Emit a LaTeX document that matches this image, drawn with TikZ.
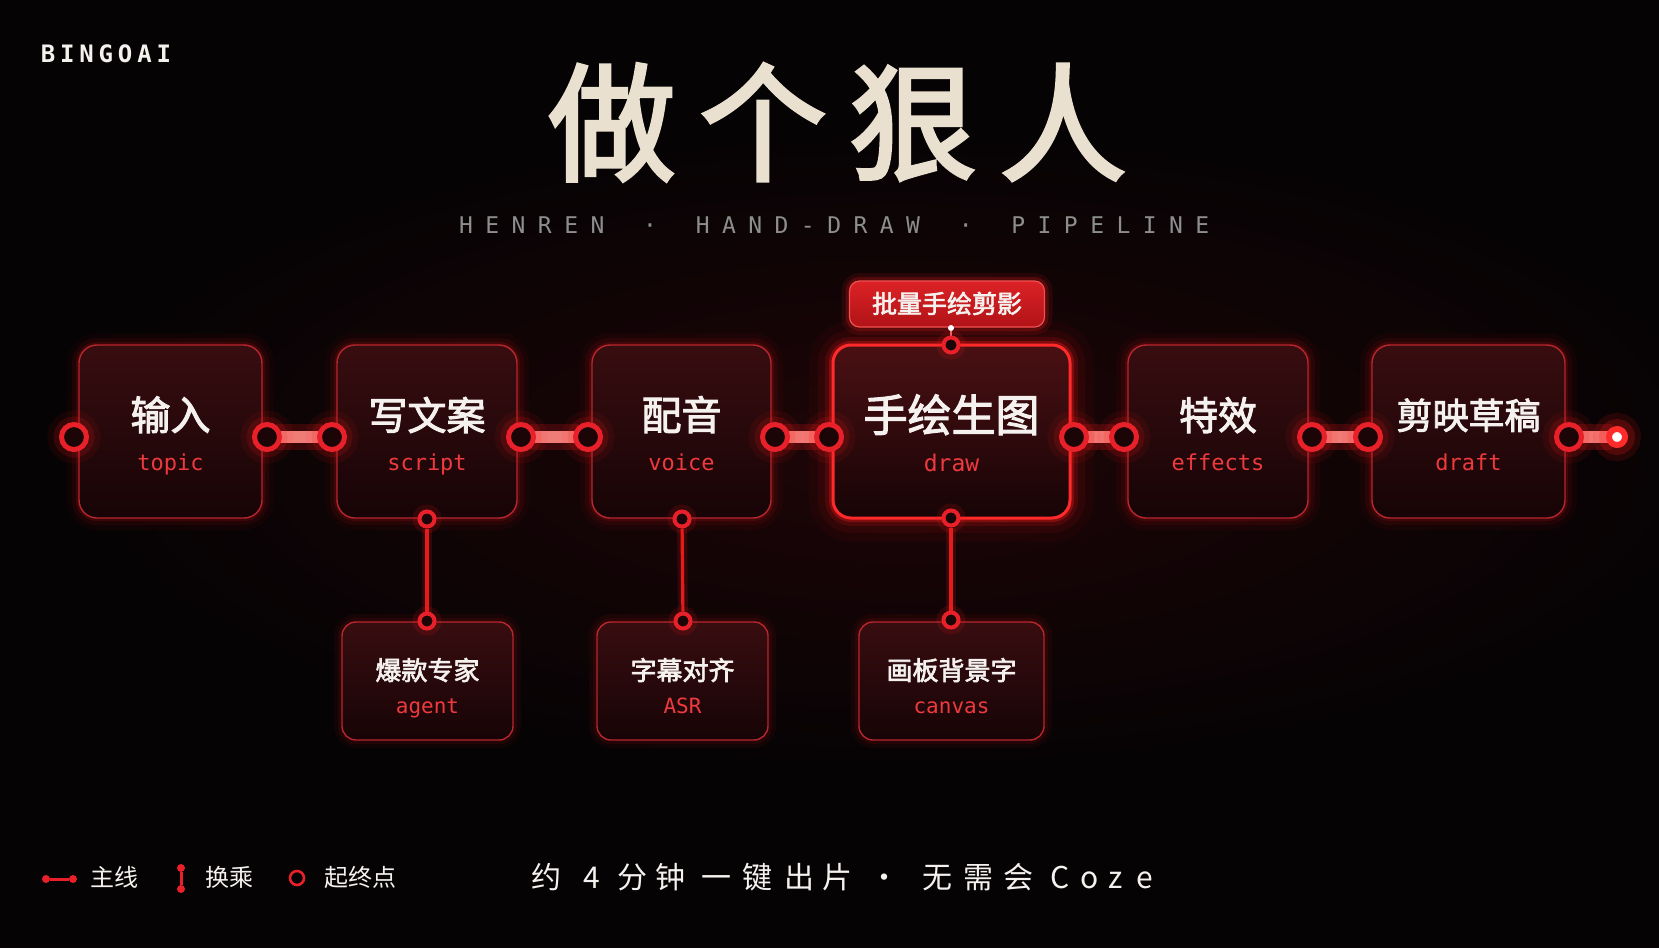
\documentclass[tikz,border=0pt]{standalone}
\usepackage{fontspec}
\newfontfamily\cjk{Noto Sans CJK SC}
\newfontfamily\cjkm{Noto Sans CJK SC}[FakeBold=2.5]
\newfontfamily\mono{DejaVu Sans Mono}
\newcommand\fsz[1]{\fontsize{#1pt}{#1pt}\selectfont}
\definecolor{bgc}{HTML}{050304}
\definecolor{haze}{HTML}{1E0507}
\definecolor{boxtop}{HTML}{380D10}
\definecolor{boxbot}{HTML}{170406}
\definecolor{edgered}{HTML}{B8262E}
\definecolor{hotred}{HTML}{FF2A2A}
\definecolor{glowred}{HTML}{FF1A1A}
\definecolor{ringred}{HTML}{E8202A}
\definecolor{holec}{HTML}{1C0506}
\definecolor{barc}{HTML}{F07C78}
\definecolor{engred}{HTML}{EE3A3E}
\definecolor{txtw}{HTML}{F5F1EE}
\definecolor{titlec}{HTML}{EAE0CF}
\definecolor{subg}{HTML}{8E8E8E}
\definecolor{labtop}{HTML}{DC2226}
\definecolor{labbot}{HTML}{B01317}
\definecolor{labedge}{HTML}{F25050}
\definecolor{vred}{HTML}{E51A1A}
\definecolor{drawtop}{HTML}{4A1013}
\pgfdeclarelayer{back}
\pgfdeclarelayer{mid}
\pgfsetlayers{back,mid,main}
\tikzset{
  mainbox/.style={rectangle, rounded corners=9pt, draw=edgered, line width=0.7pt,
    top color=boxtop, bottom color=boxbot, minimum height=86.5pt, inner sep=0pt,
    preaction={draw=glowred, line width=12pt, draw opacity=0.04},
    preaction={draw=glowred, line width=7pt, draw opacity=0.07},
    preaction={draw=glowred, line width=3pt, draw opacity=0.12}},
  drawbox/.style={rectangle, rounded corners=9pt, draw=hotred, line width=1.5pt,
    top color=drawtop, bottom color=boxbot, minimum height=86.5pt, inner sep=0pt,
    preaction={draw=glowred, line width=24pt, draw opacity=0.04},
    preaction={draw=glowred, line width=15pt, draw opacity=0.07},
    preaction={draw=glowred, line width=8pt, draw opacity=0.14},
    preaction={draw=glowred, line width=4pt, draw opacity=0.3}},
  subbox/.style={rectangle, rounded corners=7pt, draw=edgered, line width=0.7pt,
    top color=boxtop, bottom color=boxbot, minimum height=59pt, inner sep=0pt,
    preaction={draw=glowred, line width=8pt, draw opacity=0.05},
    preaction={draw=glowred, line width=4pt, draw opacity=0.08}},
  labbox/.style={rectangle, rounded corners=5pt, draw=labedge, line width=0.6pt,
    top color=labtop, bottom color=labbot, minimum width=97.5pt, minimum height=23pt, inner sep=0pt,
    preaction={draw=glowred, line width=8pt, draw opacity=0.1},
    preaction={draw=glowred, line width=4pt, draw opacity=0.2}},
  port/.style={circle, draw=ringred, line width=2.5pt, fill=holec, minimum size=12.5pt, inner sep=0pt,
    preaction={draw=glowred, line width=14pt, draw opacity=0.07},
    preaction={draw=glowred, line width=8pt, draw opacity=0.14}},
  sport/.style={circle, draw=ringred, line width=2pt, fill=holec, minimum size=7.5pt, inner sep=0pt,
    preaction={draw=glowred, line width=7pt, draw opacity=0.12}},
  endport/.style={circle, draw=hotred, line width=3pt, fill=white, minimum size=8pt, inner sep=0pt,
    preaction={draw=glowred, line width=16pt, draw opacity=0.12},
    preaction={draw=glowred, line width=10pt, draw opacity=0.2}},
  bar/.style={line width=6pt, draw=barc, shorten <=-3pt, shorten >=-3pt,
    preaction={draw=glowred, line width=13pt, draw opacity=0.18}},
  vline/.style={line width=1.6pt, draw=vred,
    preaction={draw=glowred, line width=5pt, draw opacity=0.15}},
  zh/.style={text=txtw, font=\cjkm\fsz{20}, anchor=base, inner sep=0pt},
  en/.style={text=engred, font=\mono\fsz{11}, anchor=base, inner sep=0pt},
  zhs/.style={text=txtw, font=\cjkm\fsz{13}, anchor=base, inner sep=0pt},
  ens/.style={text=engred, font=\mono\fsz{10.5}, anchor=base, inner sep=0pt},
  legdot/.style={circle, fill=ringred, minimum size=4pt, inner sep=0pt},
  legline/.style={draw=ringred, line width=1.5pt},
  legtxt/.style={text=txtw, font=\cjk\fsz{12}, anchor=base west, inner sep=0pt},
}
\begin{document}
\begin{tikzpicture}[x=0.5pt, y=-0.5pt]
\useasboundingbox (0,0) rectangle (1659,948);
\begin{pgfonlayer}{back}
\fill[bgc] (0,0) rectangle (1659,948);
\shade[inner color=haze, outer color=bgc] (900,450) ellipse (860 and 330);
\end{pgfonlayer}

% header
\foreach \c [count=\i] in {B,I,N,G,O,A,I}
  \node[text=txtw, font=\mono\bfseries\fsz{12}, anchor=base, inner sep=0pt] (brand\i) at ({48+19.3*(\i-1)},62) {\c};
\foreach \c/\x [count=\i] in {做/612,个/763,狠/913,人/1063}
  \node[text=titlec, font=\cjkm\fsz{64}, anchor=base, inner sep=0pt] (title\i) at (\x,171) {\c};
\foreach \c [count=\i] in {H,E,N,R,E,N,{},·,{},H,A,N,D,-,D,R,A,W,{},·,{},P,I,P,E,L,I,N,E}
  \node[text=subg, font=\mono\fsz{11.5}, anchor=base, inner sep=0pt] (sub\i) at ({466+26.3*(\i-1)},233.5) {\c};

% main stages
\node[mainbox, minimum width=91.5pt] (b1) at (170.5,431.5) {};
\node[mainbox, minimum width=90pt] (b2) at (427,431.5) {};
\node[mainbox, minimum width=89.5pt] (b3) at (681.5,431.5) {};
\node[drawbox, minimum width=118.5pt] (b4) at (951.5,431.5) {};
\node[mainbox, minimum width=90pt] (b5) at (1218,431.5) {};
\node[mainbox, minimum width=96.5pt] (b6) at (1468.5,431.5) {};

\node[zh] (z1) at (170.5,430) {输入};
\node[en] (e1) at (170.5,470) {topic};
\node[zh, font=\cjkm\fsz{19.5}] (z2) at (427,430) {写文案};
\node[en] (e2) at (427,470) {script};
\node[zh] (z3) at (681.5,430) {配音};
\node[en] (e3) at (681.5,470) {voice};
\node[zh, font=\cjkm\fsz{22}] (z4) at (951.5,431.5) {手绘生图};
\node[en, font=\mono\fsz{11.5}] (e4) at (951.5,471) {draw};
\node[zh, font=\cjkm\fsz{19.5}] (z5) at (1218,430) {特效};
\node[en] (e5) at (1218,470) {effects};
\node[zh, font=\cjkm\fsz{18}] (z6) at (1468.5,429) {剪映草稿};
\node[en] (e6) at (1468.5,470) {draft};

% label above draw
\node[labbox] (lab) at (947,304) {};
\node[text=txtw, font=\cjkm\fsz{12.5}, anchor=base, inner sep=0pt] (labt) at (947,313) {批量手绘剪影};
\node[circle, fill=white, minimum size=3pt, inner sep=0pt] (ldot) at (951,328) {};
\node[sport] (p4t) at (951,345) {};

% sub stages
\node[subbox, minimum width=85.5pt] (c2) at (427.5,681) {};
\node[subbox, minimum width=85.5pt] (c3) at (682.5,681) {};
\node[subbox, minimum width=92.5pt] (c4) at (951.5,681) {};
\node[zhs] (cz2) at (427.5,680) {爆款专家};
\node[ens] (ce2) at (427.5,713) {agent};
\node[zhs] (cz3) at (682.5,680) {字幕对齐};
\node[ens] (ce3) at (682.5,713) {ASR};
\node[zhs] (cz4) at (951.5,680) {画板背景字};
\node[ens] (ce4) at (951.5,713) {canvas};

% ports
\foreach \n/\x in {p1l/74,p1r/267,p2l/332,p2r/521,p3l/588,p3r/775,p4l/829,p4r/1074,p5l/1124,p5r/1312,p6l/1368,p6r/1569}
  \node[port] (\n) at (\x,437) {};
\node[endport] (pend) at (1617,437) {};
\node[sport] (q2) at (427,519) {};
\node[sport] (q3) at (682,519) {};
\node[sport] (q4) at (951,518) {};
\node[sport] (s2) at (427,621) {};
\node[sport] (s3) at (683,621) {};
\node[sport] (s4) at (951,620) {};

\begin{pgfonlayer}{mid}
\draw[bar] (p1r) -- (p2l);
\draw[bar] (p2r) -- (p3l);
\draw[bar] (p3r) -- (p4l);
\draw[bar] (p4r) -- (p5l);
\draw[bar] (p5r) -- (p6l);
\draw[bar] (p6r) -- (pend);
\draw[vline] (q2) -- (s2);
\draw[vline] (q3) -- (s3);
\draw[vline] (q4) -- (s4);
\draw[draw=barc, line width=1pt] (ldot) -- (p4t);
\end{pgfonlayer}

% legend
\node[legdot] (lm1) at (46,879) {};
\node[legdot] (lm2) at (73,879) {};
\draw[legline] (lm1) -- (lm2);
\node[legtxt] (lt1) at (90,886) {主线};
\node[legdot] (lv1) at (181,868) {};
\node[legdot] (lv2) at (181,889) {};
\draw[legline] (lv1) -- (lv2);
\node[legtxt] (lt2) at (205,886) {换乘};
\node[circle, draw=ringred, line width=1.3pt, minimum size=7pt, inner sep=0pt] (lc) at (297,878) {};
\node[legtxt] (lt3) at (324,886) {起终点};

% caption
\foreach \c/\x [count=\i] in {约/546,4/592,分/632,钟/670,一/716,键/757,出/799,片/837,·/884,无/937,需/978,会/1018,C/1060,o/1090,z/1116,e/1145}
  \node[text=txtw, font=\cjk\fsz{15}, anchor=base, inner sep=0pt] (cap\i) at (\x,888) {\c};
\end{tikzpicture}
\end{document}
